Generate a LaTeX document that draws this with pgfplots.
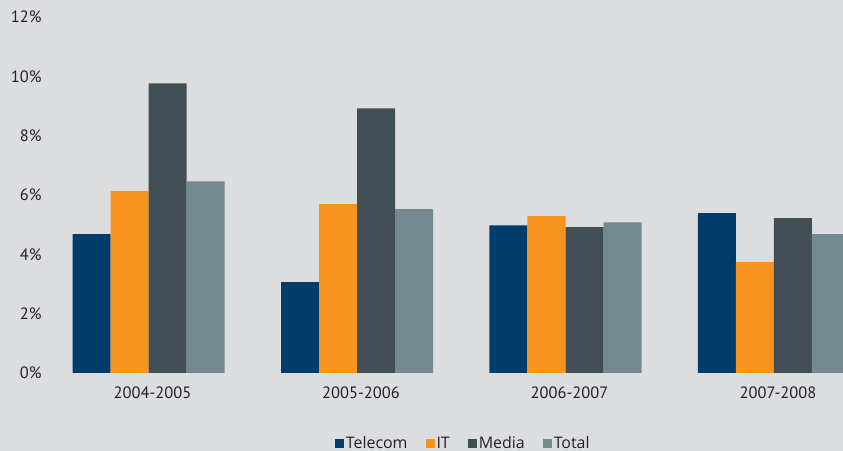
\documentclass[border=0pt]{standalone}
\usepackage{pgfplots}
\pgfplotsset{compat=1.18}
\usepackage{fontspec}
\setmainfont{PT Sans}
\newfontfamily\legfont{Open Sans}
\definecolor{bg}{HTML}{DCDDDF}
\definecolor{telecom}{HTML}{003D6B}
\definecolor{it}{HTML}{F7931E}
\definecolor{media}{HTML}{414F54}
\definecolor{total}{HTML}{748890}
\definecolor{txt}{HTML}{222224}
\begin{document}
\begin{tikzpicture}
\fill[bg] (0,0) rectangle (843bp,451bp);
\useasboundingbox (0,0) rectangle (843bp,451bp);
\begin{axis}[
  scale only axis,
  width=783bp, height=356bp,
  at={(60bp,78bp)}, anchor=south west,
  xmin=-0.4245, xmax=3.331,
  ymin=0, ymax=12,
  ytick={0,2,4,6,8,10,12},
  yticklabel={\pgfmathprintnumber{\tick}\%},
  xtick={0,1,2,3},
  xticklabels={2004-2005,2005-2006,2006-2007,2007-2008},
  /pgf/number format/assume math mode=true,
  axis line style={draw=none},
  major tick length=0pt,
  tick label style={font=\fontsize{16.5}{18}\selectfont, text=txt},
  yticklabel style={xshift=-15bp},
  xticklabel style={xshift=4bp, yshift=-10bp},
  ybar, bar width=38bp,
  legend columns=4,
  legend style={draw=none, fill=none, font=\legfont\fontsize{16}{18}\selectfont, text=txt,
    at={(0.515,-0.197)}, anchor=center,
    /tikz/every even column/.append style={column sep=16bp}},
  legend image code/.code={\fill[#1] (4bp,-4.5bp) rectangle (13bp,4.5bp);},
]
\addplot[fill=telecom, draw=none, bar shift=-57bp] coordinates {(0,4.68) (1,3.06) (2,4.98) (3,5.39)};
\addplot[fill=it, draw=none, bar shift=-19bp] coordinates {(0,6.13) (1,5.69) (2,5.29) (3,3.74)};
\addplot[fill=media, draw=none, bar shift=19bp] coordinates {(0,9.76) (1,8.92) (2,4.92) (3,5.22)};
\addplot[fill=total, draw=none, bar shift=57bp] coordinates {(0,6.46) (1,5.52) (2,5.08) (3,4.68)};
\legend{Telecom,IT,Media,Total}
\end{axis}
\end{tikzpicture}
\end{document}
